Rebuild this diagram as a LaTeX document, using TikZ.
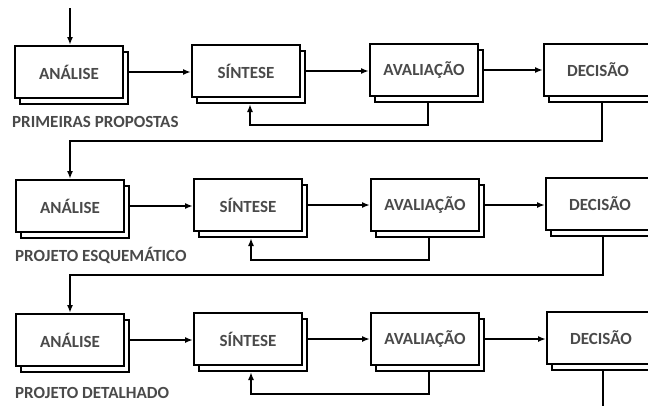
\documentclass[tikz,border=0pt]{standalone}
\usepackage{fontspec}
\setmainfont{Carlito}
\usetikzlibrary{shadows,arrows.meta}
\definecolor{txt}{HTML}{4A4A4A}
\tikzset{
  stage/.style={draw=black, fill=white, line width=2pt, minimum width=108pt, minimum height=52pt,
    inner sep=0pt, font=\fontsize{17}{20}\selectfont\bfseries, text=txt,
    copy shadow={shadow xshift=5pt, shadow yshift=-6pt, draw=black, fill=white, line width=2pt}},
  phase/.style={anchor=west, inner sep=0pt, font=\fontsize{17}{20}\selectfont\bfseries, text=txt},
  arr/.style={draw=black, line width=2pt, -{Latex[length=8pt,width=6pt]}},
  link/.style={draw=black, line width=2pt}
}
\begin{document}
\begin{tikzpicture}[x=1pt,y=-1pt]
\useasboundingbox (0,0) rectangle (648,405);
\clip (0,0) rectangle (648,405);
\fill[white] (0,0) rectangle (648,405);
% row 1
\node[stage] (A1) at (69,72) {ANÁLISE};
\node[stage] (S1) at (246,71) {SÍNTESE};
\node[stage] (V1) at (424,70) {AVALIAÇÃO};
\node[stage] (D1) at (598,70) {DECISÃO};
\node[phase] (L1) at (12,122) {PRIMEIRAS PROPOSTAS};
% row 2
\node[stage] (A2) at (70,206) {ANÁLISE};
\node[stage] (S2) at (248,205) {SÍNTESE};
\node[stage] (V2) at (425,205) {AVALIAÇÃO};
\node[stage] (D2) at (600,204) {DECISÃO};
\node[phase] (L2) at (15,255) {PROJETO ESQUEMÁTICO};
% row 3
\node[stage] (A3) at (70,340) {ANÁLISE};
\node[stage] (S3) at (248,339) {SÍNTESE};
\node[stage] (V3) at (425,339) {AVALIAÇÃO};
\node[stage] (D3) at (601,338) {DECISÃO};
\node[phase] (L3) at (15,393) {PROJETO DETALHADO};
% coordinates
\coordinate (in) at (70,8);
\coordinate (j1) at (70,141);
\coordinate (j2) at (70,275);
\coordinate (out) at (603,412);
% input
\draw[arr] (in) -- (in |- A1.north);
% row 1 connectors
\draw[arr] ([xshift=5pt]A1.east) -- (S1.west |- A1.east);
\draw[arr] ([xshift=5pt]S1.east) -- (V1.west |- S1.east);
\draw[arr] ([xshift=5pt]V1.east) -- (D1.west |- V1.east);
\draw[arr] ([xshift=4pt,yshift=-6pt]V1.south) |- ([xshift=4pt,yshift=-27pt]S1.south) -- ([xshift=4pt,yshift=-6pt]S1.south);
\draw[arr] ([xshift=4pt,yshift=-6pt]D1.south) |- (j1) -- (A2.north);
% row 2 connectors
\draw[arr] ([xshift=5pt]A2.east) -- (S2.west |- A2.east);
\draw[arr] ([xshift=5pt]S2.east) -- (V2.west |- S2.east);
\draw[arr] ([xshift=5pt]V2.east) -- (D2.west |- V2.east);
\draw[arr] ([xshift=4pt,yshift=-6pt]V2.south) |- ([xshift=3pt,yshift=-28pt]S2.south) -- ([xshift=3pt,yshift=-6pt]S2.south);
\draw[arr] ([xshift=3pt,yshift=-6pt]D2.south) |- (j2) -- (A3.north);
% row 3 connectors
\draw[arr] ([xshift=5pt]A3.east) -- (S3.west |- A3.east);
\draw[arr] ([xshift=5pt]S3.east) -- (V3.west |- S3.east);
\draw[arr] ([xshift=5pt]V3.east) -- (D3.west |- V3.east);
\draw[arr] ([xshift=4pt,yshift=-6pt]V3.south) |- ([xshift=3pt,yshift=-28pt]S3.south) -- ([xshift=3pt,yshift=-6pt]S3.south);
\draw[link] ([xshift=2pt,yshift=-6pt]D3.south) -- (out);
\end{tikzpicture}
\end{document}
